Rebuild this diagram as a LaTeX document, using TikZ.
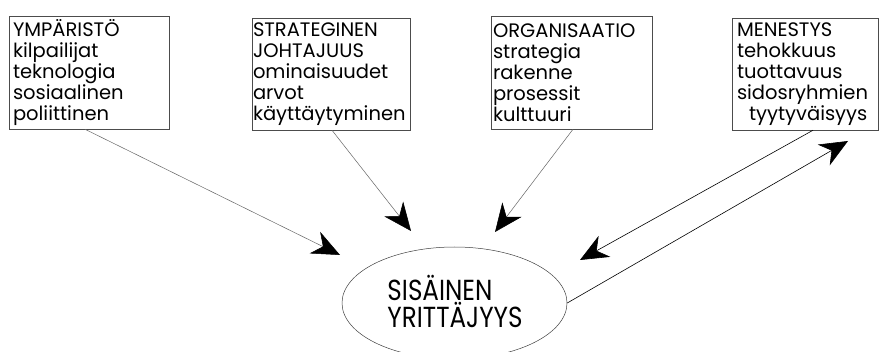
\documentclass[tikz,border=0pt]{standalone}
\usepackage{fontspec}
\setmainfont{Poppins}
\usetikzlibrary{arrows.meta,shapes.geometric,calc}
\begin{document}
\begin{tikzpicture}[x=1pt,y=-1pt,
  infobox/.style={draw=black!70, line width=0.5pt, rectangle, align=left,
    font=\fontsize{19.5}{21}\selectfont, inner ysep=0pt},
  link/.style={line width=0.5pt, draw=black!60,
    -{Stealth[length=28pt,width=24pt,inset=9pt,color=black]}},
  strong/.style={line width=0.6pt, draw=black,
    -{Stealth[length=28pt,width=24pt,inset=9pt,color=black]}}]
\useasboundingbox (0,0) rectangle (880,352);
\fill[white] (0,0) rectangle (880,352);

\node[infobox, minimum width=160, minimum height=113, inner xsep=4pt, text width=152] (b1) at (89,72.5)
  {YMPÄRISTÖ\\kilpailijat\\teknologia\\sosiaalinen\\poliittinen};
\node[infobox, minimum width=158, minimum height=112, inner xsep=1pt, text width=156] (b2) at (331,74)
  {STRATEGINEN\\JOHTAJUUS\\ominaisuudet\\arvot\\käyttäytyminen};
\node[infobox, minimum width=161, minimum height=113, inner xsep=2pt, text width=157] (b3) at (571.5,72.5)
  {ORGANISAATIO\\strategia\\rakenne\\prosessit\\kulttuuri};
\node[infobox, minimum width=146, minimum height=112, inner xsep=5pt, text width=136] (b4) at (805,74)
  {MENESTYS\\tehokkuus\\tuottavuus\\sidosryhmien\\\hspace*{12pt}tyytyväisyys};

\node[draw=black!75, line width=0.5pt, ellipse, minimum width=225, minimum height=112, inner sep=0pt] (e) at (454.5,303) {};
\node[font=\fontsize{29}{27}\selectfont, align=left, inner sep=0pt] (et) at (455,301)
  {\scalebox{0.85}[1]{SISÄINEN}\\\scalebox{0.85}[1]{YRITTÄJYYS}};

\coordinate (t1) at (340,255);
\coordinate (t2) at (411,231);
\coordinate (t3) at (495,232);
\coordinate (t4) at (580,260);
\coordinate (t5) at (848,141);

\draw[link] ($(b1.south)+(-4,0)$) -- (t1);
\draw[link] ($(b2.south)+(1,0)$) -- (t2);
\draw[link] ($(b3.south)+(1.5,0)$) -- (t3);
\draw[strong] ($(b4.south)+(8,0)$) -- (t4);
\draw[strong] (e.east) -- (t5);
\end{tikzpicture}
\end{document}
